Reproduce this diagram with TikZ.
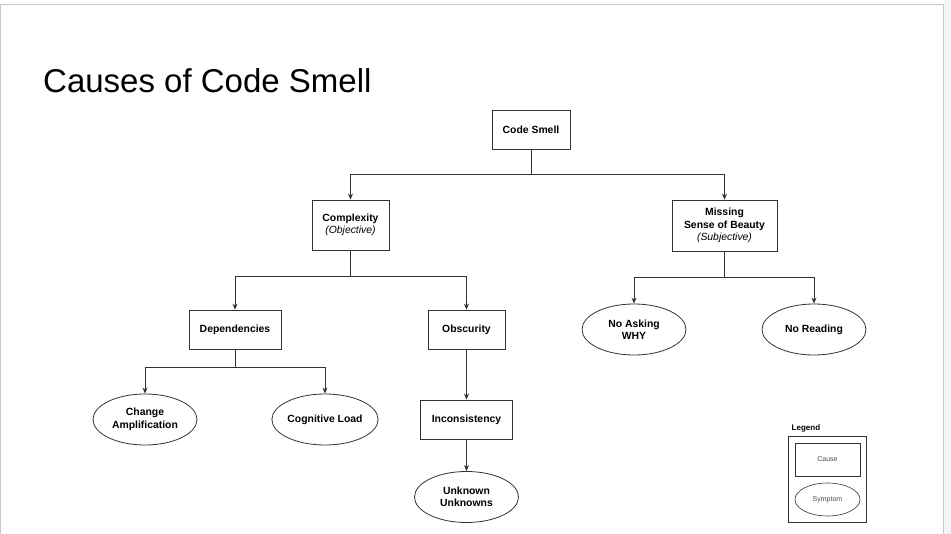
\documentclass[tikz,border=0pt]{standalone}
\usepackage{fontspec}
\setmainfont{Liberation Sans}
\setsansfont{Liberation Sans}
\usetikzlibrary{shapes.geometric,arrows.meta}
\definecolor{linegray}{HTML}{333333}
\definecolor{framegray}{HTML}{C8C8C8}
\definecolor{stripgray}{HTML}{F4F5F7}
\tikzset{
  cause/.style={draw=linegray, line width=0.8pt, rectangle, inner sep=0pt, align=center,
    font=\fontsize{10.4}{12.5}\selectfont\bfseries},
  symptom/.style={draw=linegray, line width=0.8pt, ellipse, inner sep=0pt, align=center,
    minimum width=104pt, minimum height=51pt, font=\fontsize{10.4}{12.5}\selectfont\bfseries},
  conn/.style={draw=linegray, line width=0.8pt},
  arr/.style={conn, -{Stealth[length=6pt,width=5pt]}},
  legcause/.style={draw=linegray, line width=0.6pt, rectangle, inner sep=0pt,
    minimum width=65pt, minimum height=33pt, font=\fontsize{7}{8}\selectfont, text=black!70},
  legsymptom/.style={draw=linegray, line width=0.6pt, ellipse, inner sep=0pt,
    minimum width=65pt, minimum height=33pt, font=\fontsize{7}{8}\selectfont, text=black!70},
}
\begin{document}
\begin{tikzpicture}[x=1pt,y=-1pt]
\useasboundingbox (0,0) rectangle (951,534);
\fill[white] (0,0) rectangle (951,534);
\fill[stripgray] (944,0) rectangle (951,534);
\draw[framegray, line width=1pt] (0.5,534) -- (0.5,4.5) -- (943.5,4.5) -- (943.5,534);

\node[anchor=base west, font=\fontsize{33}{38}\selectfont, inner sep=0pt] (title) at (43,93) {Causes of Code Smell};

\node[cause, minimum width=78pt, minimum height=39pt] (cs) at (531,129.5) {Code Smell};
\node[cause, minimum width=77pt, minimum height=50pt] (cx) at (350.5,225) {Complexity\\{\mdseries\itshape (Objective)}};
\node[cause, minimum width=105pt, minimum height=51pt] (msb) at (724.5,225.5) {Missing\\Sense of Beauty\\{\mdseries\itshape (Subjective)}};
\node[cause, minimum width=92pt, minimum height=39pt] (dep) at (235,329.5) {Dependencies};
\node[cause, minimum width=77pt, minimum height=39pt] (obs) at (466.5,329.5) {Obscurity};
\node[symptom] (naw) at (634,329.5) {No Asking\\WHY};
\node[symptom] (nr) at (814,329.5) {No Reading};
\node[symptom] (ca) at (145,419.5) {Change\\Amplification};
\node[symptom] (cl) at (325,419.5) {Cognitive Load};
\node[cause, minimum width=92pt, minimum height=39pt] (inc) at (466.5,419.5) {Inconsistency};
\node[symptom] (uu) at (466.5,497) {Unknown\\Unknowns};

\draw[arr] (cs.south) -- ++(0,25) -| (cx.north);
\draw[arr] (cs.south) -- ++(0,25) -| (msb.north);
\draw[arr] (cx.south) -- ++(0,26) -| (dep.north);
\draw[arr] (cx.south) -- ++(0,26) -| (obs.north);
\draw[arr] (msb.south) -- ++(0,26) -| (naw.north);
\draw[arr] (msb.south) -- ++(0,26) -| (nr.north);
\draw[arr] (dep.south) -- ++(0,18) -| (ca.north);
\draw[arr] (dep.south) -- ++(0,18) -| (cl.north);
\draw[arr] (obs.south) -- (inc.north);
\draw[arr] (inc.south) -- (uu.north);

\node[anchor=base west, inner sep=0pt, font=\fontsize{8}{9}\selectfont\bfseries] (legtitle) at (791.5,430.5) {Legend};
\node[draw=linegray, line width=0.8pt, rectangle, minimum width=78pt, minimum height=86pt, inner sep=0pt] (legbox) at (827,479) {};
\node[legcause] (legc) at (827.5,459.5) {Cause};
\node[legsymptom] (legs) at (827.5,499.5) {Symptom};
\end{tikzpicture}
\end{document}
